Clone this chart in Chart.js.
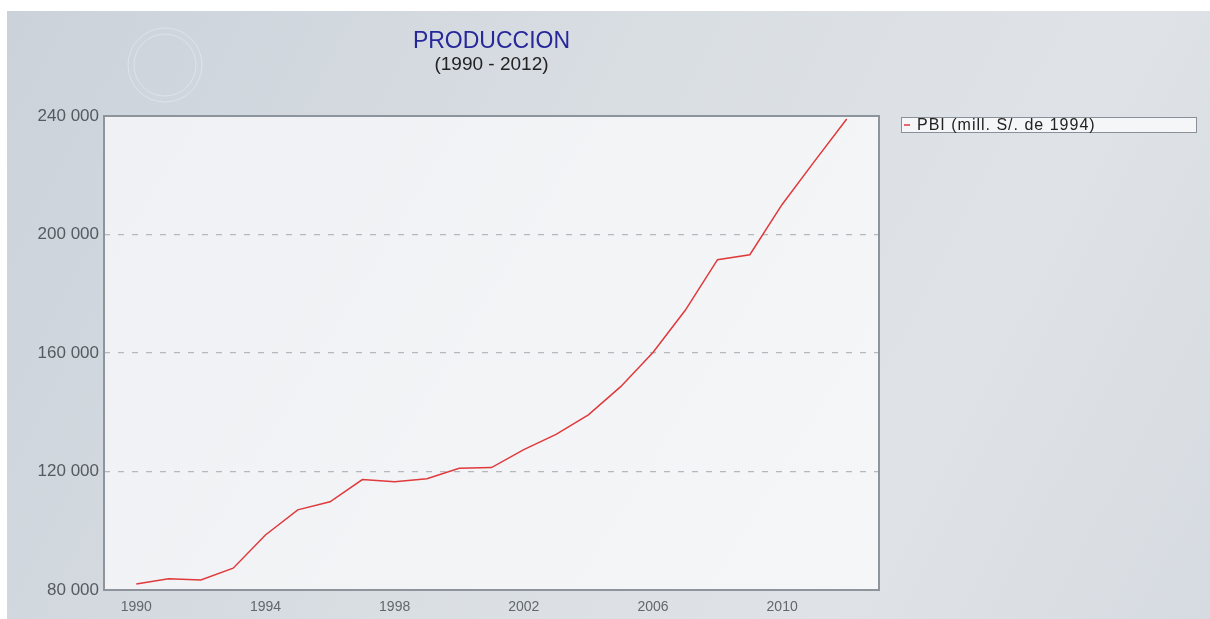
<!DOCTYPE html>
<html>
<head>
<meta charset="utf-8">
<script src="https://cdn.jsdelivr.net/npm/chart.js@4.4.1/dist/chart.umd.min.js"></script>
<style>
  html, body { margin: 0; padding: 0; background: #ffffff; }
  #wrap { width: 1210px; height: 619px; position: relative; }
</style>
</head>
<body>
<div id="wrap"><canvas id="c" width="1210" height="619"></canvas></div>
<script>
// ---- Data ----
const years = [1990,1991,1992,1993,1994,1995,1996,1997,1998,1999,2000,2001,2002,2003,2004,2005,2006,2007,2008,2009,2010,2011,2012];
const pbi = [82032,83760,83401,87375,98577,107064,109760,117294,116522,117587,121057,121317,127407,132545,139141,148640,160145,174407,191505,193155,210143,224669,238972];
const xTickLabels = [1990,1994,1998,2002,2006,2010];
const yTickValues = [80000,120000,160000,200000,240000];
const seriesLabel = 'PBI (mill. S/. de 1994)';
const titleText = 'PRODUCCION';
const subtitleText = '(1990 - 2012)';

const FONT = "'Liberation Sans', Arial, Helvetica, sans-serif";

function fmt(v) {
  return String(v).replace(/\B(?=(\d{3})+(?!\d))/g, ' ');
}

const bgPlugin = {
  id: 'bg',
  beforeDraw(chart) {
    const ctx = chart.ctx;
    const W = chart.width, H = chart.height;
    ctx.save();
    ctx.fillStyle = '#ffffff';
    ctx.fillRect(0, 0, W, H);
    const g = ctx.createLinearGradient(7, 0, W, H);
    g.addColorStop(0, '#cbd2da');
    g.addColorStop(0.45, '#d9dee3');
    g.addColorStop(0.75, '#dfe3e7');
    g.addColorStop(1, '#d6dbe1');
    ctx.fillStyle = g;
    ctx.fillRect(7, 11, W - 7, H - 11);
    // faint logo watermark
    ctx.strokeStyle = 'rgba(235,239,243,0.55)';
    ctx.lineWidth = 1;
    ctx.beginPath(); ctx.arc(165, 65, 37, 0, Math.PI * 2); ctx.stroke();
    ctx.beginPath(); ctx.arc(165, 65, 31, 0, Math.PI * 2); ctx.stroke();
    // plot area background
    const a = chart.chartArea;
    const pg = ctx.createLinearGradient(a.left, a.top, a.right, a.bottom);
    pg.addColorStop(0, '#eff1f4');
    pg.addColorStop(1, '#f5f6f8');
    ctx.fillStyle = pg;
    ctx.fillRect(a.left, a.top, a.right - a.left, a.bottom - a.top);
    ctx.restore();
  },
  afterDraw(chart) {
    const ctx = chart.ctx;
    const a = chart.chartArea;
    ctx.save();
    // plot frame
    ctx.strokeStyle = '#8d949c';
    ctx.lineWidth = 2;
    ctx.strokeRect(a.left, a.top, a.right - a.left, a.bottom - a.top);
    // legend box
    const lx = a.right + 22, ly = a.top + 1, lw = 295, lh = 15;
    ctx.fillStyle = '#f5f6f8';
    ctx.fillRect(lx, ly, lw, lh);
    ctx.strokeStyle = '#8a9099';
    ctx.lineWidth = 1;
    ctx.strokeRect(lx + 0.5, ly + 0.5, lw, lh);
    const ds = chart.data.datasets[0];
    ctx.strokeStyle = ds.borderColor;
    ctx.lineWidth = 1.5;
    ctx.beginPath();
    ctx.moveTo(lx + 3, ly + lh / 2 + 0.5);
    ctx.lineTo(lx + 9, ly + lh / 2 + 0.5);
    ctx.stroke();
    ctx.fillStyle = '#222222';
    ctx.font = '16px ' + FONT;
    try { ctx.letterSpacing = '1px'; } catch (e) {}
    ctx.textBaseline = 'middle';
    ctx.textAlign = 'left';
    ctx.fillText(ds.label, lx + 16, ly + lh / 2 + 1);
    ctx.restore();
  }
};

new Chart(document.getElementById('c'), {
  type: 'line',
  data: {
    datasets: [{
      label: seriesLabel,
      data: years.map((y, i) => ({ x: y, y: pbi[i] })),
      borderColor: '#e0393b',
      borderWidth: 1.5,
      pointRadius: 0,
      tension: 0,
      fill: false
    }]
  },
  options: {
    responsive: false,
    animation: false,
    events: [],
    layout: { padding: { left: 0, right: 331, top: 0, bottom: 0 } },
    plugins: {
      legend: { display: false },
      tooltip: { enabled: false },
      title: {
        display: true,
        text: titleText,
        fullSize: false,
        color: '#26289a',
        font: { family: FONT, size: 23, weight: 'normal', lineHeight: 1 },
        padding: { top: 30, bottom: 0 }
      },
      subtitle: {
        display: true,
        text: subtitleText,
        fullSize: false,
        color: '#222222',
        font: { family: FONT, size: 19, weight: 'normal', lineHeight: 1 },
        padding: { top: 2, bottom: 42 }
      }
    },
    scales: {
      x: {
        type: 'linear',
        min: 1989,
        max: 2013,
        afterBuildTicks(scale) { scale.ticks = xTickLabels.map(v => ({ value: v })); },
        afterFit(scale) { scale.height = 29; },
        grid: { display: false, drawTicks: false },
        border: { display: false },
        ticks: {
          padding: 9,
          color: '#62676d',
          font: { family: FONT, size: 14 },
          callback: v => String(v),
          maxRotation: 0,
          autoSkip: false
        }
      },
      y: {
        min: 80000,
        max: 240000,
        afterBuildTicks(scale) { scale.ticks = yTickValues.map(v => ({ value: v })); },
        afterFit(scale) { scale.width = 104; },
        border: { display: false, dash: [6, 8] },
        grid: {
          drawTicks: false,
          color: ctx => (ctx.tick && (ctx.tick.value === 80000 || ctx.tick.value === 240000)) ? 'rgba(0,0,0,0)' : '#b5b9bf',
          lineWidth: 1.2
        },
        ticks: {
          padding: 5,
          color: '#555a60',
          font: { family: FONT, size: 17 },
          callback: v => fmt(v)
        }
      }
    }
  },
  plugins: [bgPlugin]
});
</script>
</body>
</html>
